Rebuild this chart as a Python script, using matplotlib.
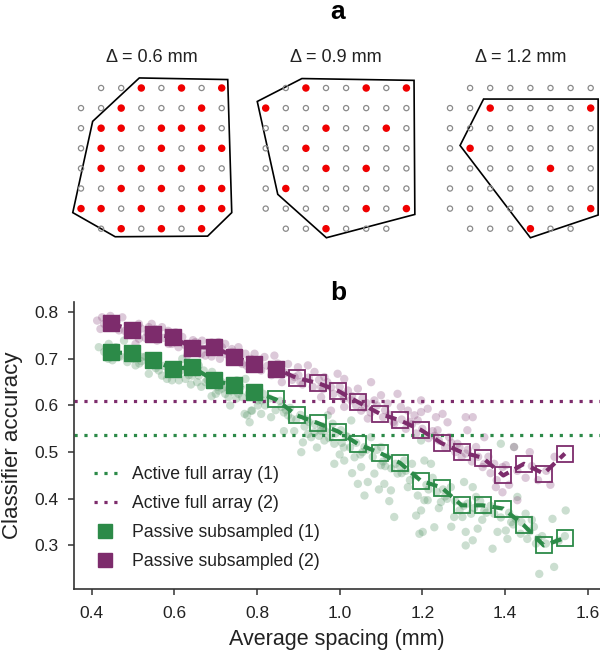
import matplotlib
matplotlib.use('Agg')
import matplotlib.pyplot as plt
from matplotlib.lines import Line2D
from matplotlib.patches import Polygon

plt.rcParams['font.family'] = ['Liberation Sans', 'DejaVu Sans']

# ---------------- Panel a data ----------------
titles_a = ['Δ = 0.6 mm', 'Δ = 0.9 mm', 'Δ = 1.2 mm']
n_rows = 8
n_cols = 8
missing = [(0, 0), (7, 0), (7, 7)]
selected_06 = [(0, 3), (0, 5), (0, 7), (1, 2), (1, 6), (2, 1), (2, 2), (2, 4), (2, 5), (2, 6),
               (3, 1), (3, 4), (3, 6), (3, 7), (4, 1), (4, 3), (4, 5), (5, 2), (5, 4), (5, 6),
               (5, 7), (6, 0), (6, 1), (6, 3), (6, 5), (6, 6), (6, 7), (7, 2), (7, 4), (7, 6)]
selected_09 = [(0, 2), (0, 5), (0, 7), (1, 0), (2, 3), (2, 6), (3, 2), (4, 3), (4, 5), (5, 1),
               (6, 5), (6, 7), (7, 3)]
selected_12 = [(1, 2), (1, 7), (3, 1), (4, 5), (6, 7), (7, 4)]
hull_06 = [(2.9, -0.5), (7.3, -0.42), (7.5, 6.2), (6.3, 7.37), (1.7, 7.4), (-0.41, 6.2), (0.58, 1.66)]
hull_09 = [(1.8, -0.47), (7.38, -0.38), (7.42, 6.29), (3.02, 7.45), (0.6, 5.29), (-0.42, 0.67)]
hull_12 = [(1.67, 0.55), (7.37, 0.55), (7.37, 6.32), (4.0, 7.45), (0.5, 2.86)]

# ---------------- Panel b data ----------------
bin_spacing = [0.446, 0.498, 0.547, 0.597, 0.643, 0.696, 0.744, 0.793, 0.846, 0.896, 0.948, 0.997,
               1.045, 1.098, 1.146, 1.196, 1.247, 1.295, 1.346, 1.396, 1.446, 1.494, 1.545]
passive_1 = [0.714, 0.712, 0.697, 0.679, 0.682, 0.654, 0.643, 0.630, 0.613, 0.579, 0.562, 0.544,
             0.517, 0.498, 0.477, 0.439, 0.424, 0.386, 0.386, 0.379, 0.343, 0.300, 0.316]
passive_2 = [0.776, 0.762, 0.754, 0.746, 0.724, 0.725, 0.705, 0.689, 0.679, 0.659, 0.648, 0.631,
             0.607, 0.582, 0.568, 0.548, 0.519, 0.500, 0.488, 0.450, 0.475, 0.454, 0.497]
filled_count_1 = 8
filled_count_2 = 9
active_1 = 0.536
active_2 = 0.609

scatter1_x = [0.417, 0.441, 0.458, 0.478, 0.450, 0.486, 0.506, 0.522, 0.546, 0.538, 0.562, 0.570,
              0.582, 0.594, 0.611, 0.627, 0.619, 0.643, 0.659, 0.659, 0.671, 0.675, 0.691, 0.707,
              0.715, 0.723, 0.731, 0.751, 0.772, 0.780, 0.764, 0.776, 0.788, 0.770, 0.782, 0.802,
              0.812, 0.907, 0.883, 0.931, 0.955, 0.911, 0.786, 0.802, 0.810, 0.834, 0.859, 0.875,
              0.923, 0.939, 0.963, 0.987, 0.955, 0.983, 1.003, 1.020, 0.987, 1.011, 1.036, 1.052,
              1.044, 1.068, 1.060, 1.084, 1.100, 1.108, 1.124, 1.132, 1.140, 1.156, 1.165, 1.189,
              1.185, 1.197, 1.193, 1.205, 1.060, 1.100, 1.076, 1.028, 0.971, 1.197, 1.205, 1.221,
              1.213, 1.201, 1.229, 1.245, 1.269, 1.277, 1.297, 1.301, 1.322, 1.330, 1.318, 1.334,
              1.305, 1.322, 1.305, 1.370, 1.382, 1.402, 1.406, 1.374, 1.430, 1.450, 1.454, 1.438,
              1.390, 1.422, 1.515, 1.547, 1.483, 1.519, 1.475, 1.499, 1.426,
              0.430, 0.440, 0.455, 0.470, 0.490, 0.500, 0.515, 0.530, 0.550, 0.555, 0.575, 0.590,
              0.600, 0.615, 0.630, 0.640, 0.655, 0.665, 0.680, 0.695, 0.700, 0.715, 0.725, 0.740,
              0.750, 0.760, 0.795, 0.805, 0.820, 0.830, 0.845, 0.855, 0.865, 0.880, 0.895, 0.905,
              0.915, 0.925, 0.940, 0.950, 0.965, 0.975, 0.990, 1.005, 1.015, 1.025, 1.040, 1.050,
              1.065, 1.080, 1.090, 1.105, 1.115, 1.125, 1.135, 1.150, 1.160, 1.170, 1.180, 1.210,
              1.225, 1.235, 1.250, 1.260, 1.280, 1.290, 1.310, 1.325, 1.340, 1.355, 1.365, 1.390,
              1.410, 1.420, 1.440, 1.460, 1.470, 1.490, 1.530, 1.545, 0.890, 0.945, 1.000, 1.030,
              1.120, 1.175, 1.240, 1.345, 1.465, 0.735, 0.690, 0.865, 1.095, 1.270,
              0.465, 0.520, 0.585, 0.635, 0.705, 0.755, 0.815, 0.870, 0.920, 0.960, 1.010, 1.055,
              1.110, 1.145, 1.215, 1.255, 1.300, 1.350, 1.415, 1.480]
scatter1_y = [0.725, 0.732, 0.725, 0.739, 0.697, 0.693, 0.686, 0.704, 0.689, 0.668, 0.675, 0.664,
              0.657, 0.654, 0.654, 0.657, 0.700, 0.664, 0.664, 0.686, 0.675, 0.650, 0.672, 0.632,
              0.636, 0.625, 0.618, 0.654, 0.657, 0.625, 0.618, 0.579, 0.589, 0.582, 0.564, 0.600,
              0.611, 0.500, 0.572, 0.532, 0.546, 0.521, 0.589, 0.611, 0.582, 0.575, 0.597, 0.579,
              0.539, 0.543, 0.525, 0.518, 0.554, 0.561, 0.547, 0.532, 0.475, 0.482, 0.489, 0.468,
              0.432, 0.436, 0.407, 0.454, 0.472, 0.432, 0.418, 0.361, 0.454, 0.482, 0.425, 0.407,
              0.364, 0.375, 0.325, 0.397, 0.511, 0.511, 0.532, 0.568, 0.579, 0.525, 0.482, 0.475,
              0.397, 0.329, 0.339, 0.393, 0.425, 0.361, 0.361, 0.436, 0.425, 0.404, 0.368, 0.336,
              0.329, 0.311, 0.300, 0.293, 0.329, 0.332, 0.314, 0.368, 0.404, 0.368, 0.314, 0.325,
              0.518, 0.511, 0.357, 0.375, 0.239, 0.254, 0.304, 0.304, 0.357,
              0.715, 0.700, 0.720, 0.705, 0.720, 0.700, 0.690, 0.705, 0.700, 0.680, 0.685, 0.670,
              0.685, 0.675, 0.680, 0.645, 0.650, 0.640, 0.655, 0.645, 0.625, 0.650, 0.640, 0.630,
              0.615, 0.640, 0.620, 0.635, 0.600, 0.615, 0.590, 0.610, 0.585, 0.595, 0.570, 0.580,
              0.555, 0.565, 0.560, 0.535, 0.545, 0.530, 0.540, 0.520, 0.535, 0.510, 0.520, 0.495,
              0.505, 0.490, 0.505, 0.480, 0.490, 0.465, 0.475, 0.455, 0.460, 0.440, 0.450, 0.430,
              0.445, 0.415, 0.420, 0.400, 0.395, 0.375, 0.390, 0.380, 0.395, 0.370, 0.385, 0.360,
              0.370, 0.345, 0.350, 0.330, 0.340, 0.320, 0.310, 0.320, 0.545, 0.510, 0.495, 0.455,
              0.395, 0.475, 0.380, 0.355, 0.355, 0.600, 0.620, 0.545, 0.420, 0.340,
              0.705, 0.695, 0.675, 0.665, 0.640, 0.625, 0.625, 0.590, 0.570, 0.555, 0.510, 0.500,
              0.470, 0.470, 0.420, 0.405, 0.385, 0.375, 0.350, 0.315]

scatter2_x = [0.413, 0.425, 0.421, 0.458, 0.474, 0.466, 0.514, 0.538, 0.554, 0.570, 0.514, 0.506,
              0.558, 0.603, 0.619, 0.586, 0.594, 0.651, 0.667, 0.631, 0.675, 0.707, 0.715, 0.723,
              0.739, 0.755, 0.755, 0.764, 0.772, 0.794, 0.818, 0.842, 0.875, 0.899, 0.923, 0.939,
              0.963, 0.995, 1.011, 0.979, 1.020, 1.044, 1.076, 1.028, 1.052, 1.084, 1.100, 1.116,
              1.140, 1.148, 1.165, 1.181, 1.189, 1.132, 1.197, 1.068, 1.011, 0.979, 0.955, 0.891,
              0.859, 1.197, 1.213, 1.233, 1.249, 1.261, 1.305, 1.322, 1.309, 1.350, 1.374, 1.394,
              1.402, 1.378, 1.394, 1.430, 1.422, 1.330, 1.285, 1.265, 1.237, 1.305, 1.346,
              0.430, 0.445, 0.460, 0.490, 0.500, 0.520, 0.530, 0.545, 0.560, 0.575, 0.585, 0.600,
              0.610, 0.625, 0.635, 0.645, 0.655, 0.665, 0.680, 0.690, 0.700, 0.710, 0.725, 0.735,
              0.745, 0.760, 0.775, 0.785, 0.800, 0.810, 0.825, 0.835, 0.850, 0.860, 0.870, 0.885,
              0.900, 0.910, 0.925, 0.935, 0.950, 0.960, 0.970, 0.985, 1.000, 1.010, 1.030, 1.040,
              1.055, 1.060, 1.075, 1.090, 1.105, 1.120, 1.130, 1.150, 1.160, 1.175, 1.185, 1.200,
              1.215, 1.225, 1.240, 1.255, 1.270, 1.280, 1.295, 1.310, 1.320, 1.335, 1.350, 1.360,
              1.365, 1.380, 1.410, 1.430, 1.450, 1.465, 1.480, 1.500, 1.520, 1.510, 1.460,
              0.480, 0.535, 0.590, 0.640, 0.690, 0.740, 0.790, 0.845, 0.905, 0.955, 1.005, 1.065,
              1.110, 1.170, 1.230, 1.290]
scatter2_y = [0.782, 0.789, 0.764, 0.772, 0.789, 0.761, 0.775, 0.768, 0.764, 0.768, 0.743, 0.732,
              0.739, 0.757, 0.747, 0.732, 0.732, 0.736, 0.739, 0.707, 0.707, 0.736, 0.725, 0.732,
              0.721, 0.725, 0.700, 0.689, 0.711, 0.711, 0.704, 0.707, 0.689, 0.682, 0.686, 0.672,
              0.661, 0.668, 0.657, 0.639, 0.632, 0.636, 0.650, 0.611, 0.589, 0.611, 0.622, 0.604,
              0.625, 0.597, 0.589, 0.579, 0.568, 0.561, 0.611, 0.572, 0.597, 0.589, 0.618, 0.661,
              0.668, 0.586, 0.593, 0.575, 0.582, 0.564, 0.575, 0.575, 0.547, 0.532, 0.475, 0.468,
              0.472, 0.425, 0.414, 0.397, 0.511, 0.511, 0.518, 0.532, 0.547, 0.497, 0.468,
              0.775, 0.792, 0.780, 0.770, 0.755, 0.765, 0.745, 0.775, 0.750, 0.745, 0.760, 0.740,
              0.725, 0.730, 0.715, 0.740, 0.720, 0.710, 0.720, 0.705, 0.715, 0.700, 0.710, 0.695,
              0.710, 0.695, 0.685, 0.700, 0.690, 0.675, 0.685, 0.665, 0.690, 0.650, 0.670, 0.655,
              0.665, 0.645, 0.660, 0.640, 0.655, 0.635, 0.650, 0.625, 0.640, 0.615, 0.620, 0.600,
              0.615, 0.595, 0.585, 0.600, 0.575, 0.580, 0.565, 0.570, 0.550, 0.560, 0.540, 0.550,
              0.530, 0.545, 0.525, 0.510, 0.520, 0.500, 0.490, 0.505, 0.480, 0.490, 0.475, 0.490,
              0.455, 0.440, 0.430, 0.460, 0.445, 0.470, 0.440, 0.460, 0.490, 0.430, 0.500,
              0.760, 0.755, 0.750, 0.725, 0.735, 0.715, 0.680, 0.670, 0.650, 0.640, 0.625, 0.605,
              0.590, 0.565, 0.535, 0.510]

GREEN = '#2c8a48'
PURPLE = '#7d2c6c'
GREEN_PT = '#5e9a6e'
PURPLE_PT = '#8e4f82'
TXT = '#222222'

W, H = 600, 656
fig = plt.figure(figsize=(W / 100, H / 100), dpi=100)

# ---------------- Panel a ----------------
col0_px = [81, 265.7, 450]
row0_px = 88
pitch = 20.1
selections = [selected_06, selected_09, selected_12]
hulls = [hull_06, hull_09, hull_12]
lo, hi = -0.6, 7.6
for k in range(3):
    left_px = col0_px[k] + lo * pitch
    top_px = row0_px + lo * pitch
    size_px = (hi - lo) * pitch
    ax = fig.add_axes([left_px / W, 1 - (top_px + size_px) / H, size_px / W, size_px / H])
    ax.set_xlim(lo, hi)
    ax.set_ylim(hi, lo)
    ax.axis('off')
    sel = set(selections[k])
    ex, ey, fx, fy = [], [], [], []
    for r in range(n_rows):
        for c in range(n_cols):
            if (r, c) in missing:
                continue
            if (r, c) in sel:
                fx.append(c); fy.append(r)
            else:
                ex.append(c); ey.append(r)
    ax.add_patch(Polygon(hulls[k], closed=True, fill=False, edgecolor='black', lw=1.2, zorder=1))
    ax.scatter(ex, ey, s=14, facecolors='none', edgecolors='#8a8a8a', linewidths=0.9, zorder=2)
    ax.scatter(fx, fy, s=29, color='#f00000', edgecolors='none', zorder=3)
    cx = col0_px[k] + 3.5 * pitch
    fig.text(cx / W, 1 - 58 / H, titles_a[k], ha='center', va='center', fontsize=13, color=TXT)

fig.text(338 / W, 1 - 12 / H, 'a', ha='center', va='center', fontsize=19, fontweight='bold')
fig.text(338 / W, 1 - 293 / H, 'b', ha='center', va='center', fontsize=19, fontweight='bold')

# ---------------- Panel b ----------------
axb = fig.add_axes([74 / W, 1 - 589.3 / H, 526 / W, 287.6 / H])
axb.set_xlim(0.357, 1.630)
axb.set_ylim(0.206, 0.8225)

axb.scatter(scatter1_x, scatter1_y, s=36, color=GREEN_PT, alpha=0.32, edgecolors='none', zorder=1)
axb.scatter(scatter2_x, scatter2_y, s=36, color=PURPLE_PT, alpha=0.3, edgecolors='none', zorder=1)

axb.axhline(active_1, color=GREEN, lw=2.3, linestyle=(0, (1, 2.1)), zorder=2)
axb.axhline(active_2, color=PURPLE, lw=2.3, linestyle=(0, (1, 2.1)), zorder=2)

for ys, col, nf in [(passive_1, GREEN, filled_count_1), (passive_2, PURPLE, filled_count_2)]:
    axb.plot(bin_spacing, ys, color=col, lw=3, linestyle=(0, (2.7, 1.7)), zorder=3)
    axb.plot(bin_spacing[:nf], ys[:nf], linestyle='none', marker='s', markersize=11.5,
             color=col, zorder=4)
    axb.plot(bin_spacing[nf:], ys[nf:], linestyle='none', marker='s', markersize=11,
             markerfacecolor='none', markeredgecolor=col, markeredgewidth=1.3, zorder=4)

axb.set_xticks([0.4, 0.6, 0.8, 1.0, 1.2, 1.4, 1.6])
axb.set_xticklabels(['0.4', '0.6', '0.8', '1.0', '1.2', '1.4', '1.6'])
axb.set_yticks([0.3, 0.4, 0.5, 0.6, 0.7, 0.8])
axb.set_yticklabels(['0.3', '0.4', '0.5', '0.6', '0.7', '0.8'])
axb.tick_params(labelsize=12.5, length=4, width=1.1, color='#333333', labelcolor=TXT)
axb.tick_params(axis='x', pad=8)
axb.tick_params(axis='y', pad=7)
for side in ['top', 'right']:
    axb.spines[side].set_visible(False)
for side in ['left', 'bottom']:
    axb.spines[side].set_linewidth(1.2)
    axb.spines[side].set_color('#333333')
axb.set_xlabel('Average spacing (mm)', fontsize=15.5, color=TXT, labelpad=6)
axb.set_ylabel('Classifier accuracy', fontsize=16, color=TXT, labelpad=8)

handles = [
    Line2D([], [], color=GREEN, lw=2.3, linestyle=(0, (1, 2.1))),
    Line2D([], [], color=PURPLE, lw=2.3, linestyle=(0, (1, 2.1))),
    Line2D([], [], color=GREEN, marker='s', markersize=10, linestyle='none'),
    Line2D([], [], color=PURPLE, marker='s', markersize=10, linestyle='none'),
]
labels = ['Active full array (1)', 'Active full array (2)',
          'Passive subsampled (1)', 'Passive subsampled (2)']
axb.legend(handles, labels, loc='upper left', bbox_to_anchor=(0.021, 0.458), frameon=False,
           fontsize=12.7, handlelength=1.3, handletextpad=0.85, labelspacing=0.68,
           borderpad=0, labelcolor=TXT)

fig.savefig('out.png', dpi=100)
